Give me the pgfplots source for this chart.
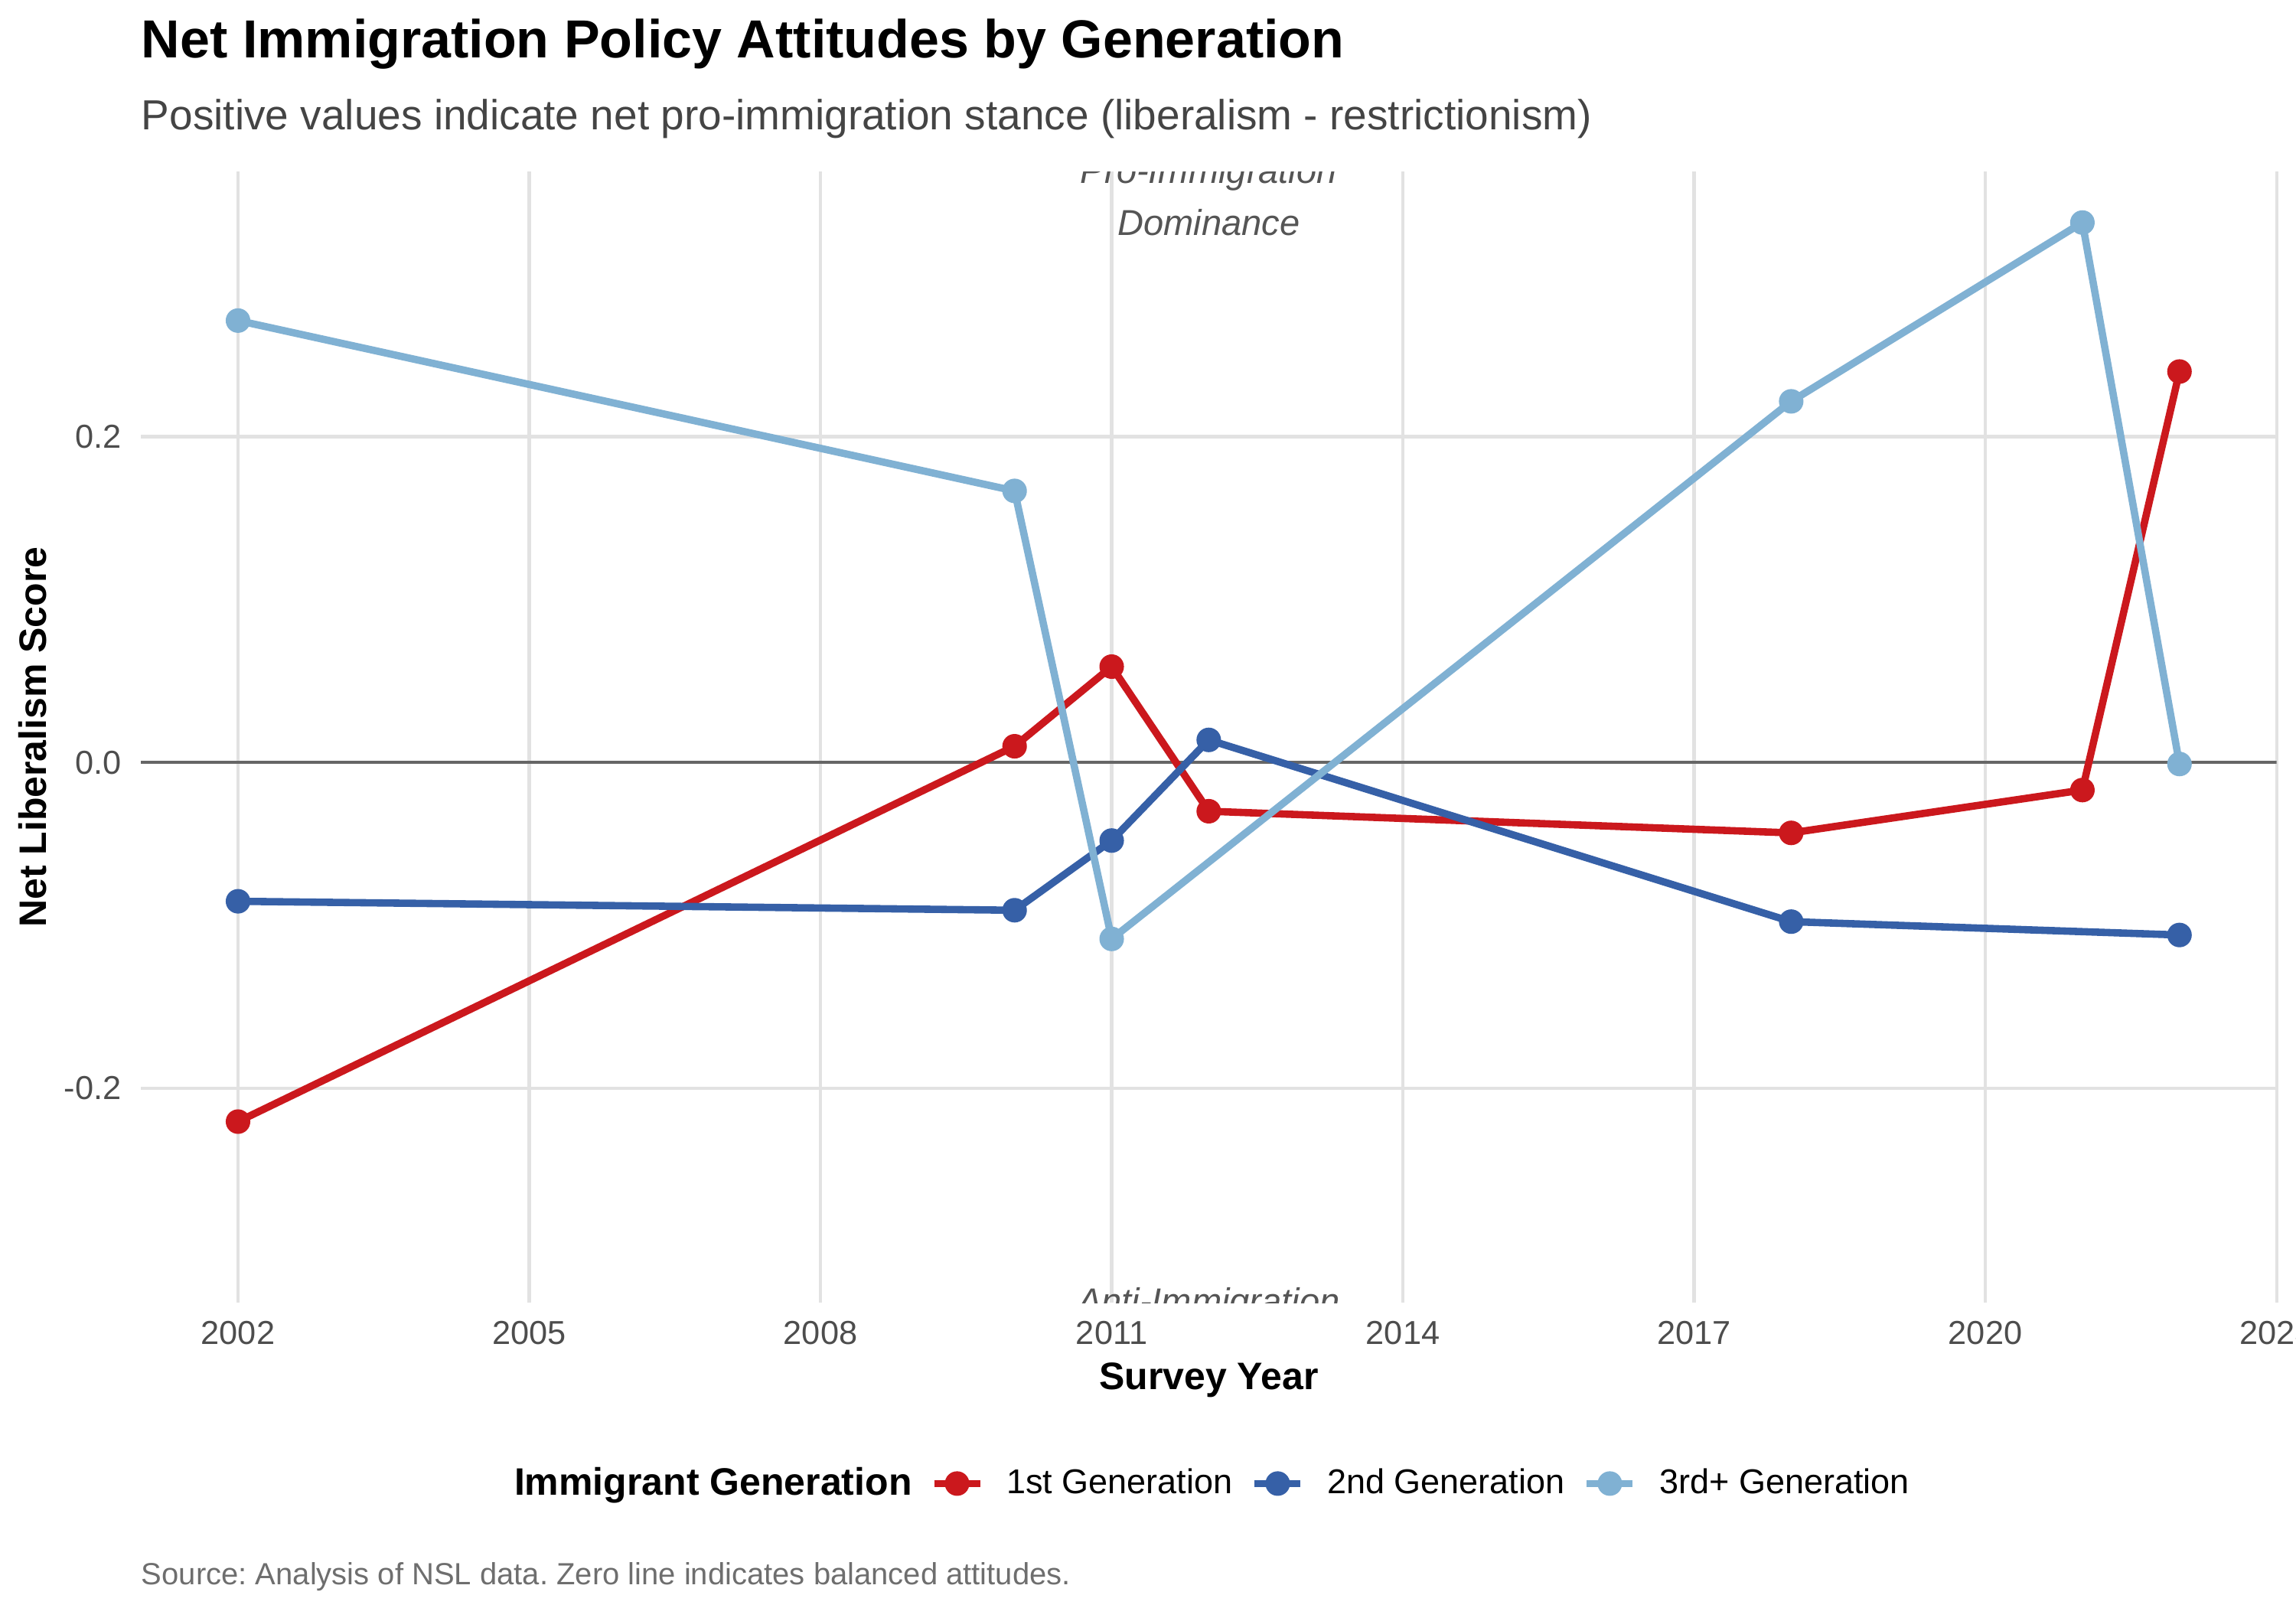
\documentclass[border=0pt]{standalone}
\usepackage{pgfplots}
\pgfplotsset{compat=1.18}
\usepackage{pgfplotstable}
\usepackage{fontspec}
\setmainfont{Liberation Sans}
\frenchspacing
\definecolor{cRed}{RGB}{203,24,29}
\definecolor{cBlue}{RGB}{54,96,167}
\definecolor{cLight}{RGB}{128,177,211}
\definecolor{gridc}{RGB}{226,226,226}
\definecolor{zeroc}{RGB}{102,102,102}
\definecolor{tickc}{RGB}{77,77,77}
\definecolor{subc}{RGB}{68,68,68}
\definecolor{annc}{RGB}{85,85,85}
\definecolor{capc}{RGB}{110,110,110}

\pgfplotstableread{
year val
2002 -0.2206
2010 0.0099
2011 0.0588
2012 -0.0300
2018 -0.0433
2021 -0.0170
2022 0.2400
}\first
\pgfplotstableread{
year val
2002 -0.0853
2010 -0.0908
2011 -0.0480
2012 0.0138
2018 -0.0978
2022 -0.1060
}\second
\pgfplotstableread{
year val
2002 0.2713
2010 0.1667
2011 -0.1084
2018 0.2217
2021 0.3315
2022 -0.0010
}\third

\begin{document}
\begin{tikzpicture}
\begin{axis}[
  name=ax, at={(0,0)}, anchor=south west,
  scale only axis, width=669.7pt, height=354.7pt,
  xmin=2001, xmax=2023, ymin=-0.3318, ymax=0.3628,
  xtick={2002,2005,...,2023}, ytick={-0.2,0,0.2},
  axis line style={draw=none}, major tick length=0pt, minor tick num=0,
  xmajorgrids, ymajorgrids,
  major grid style={draw=gridc, line width=1pt},
  /pgf/number format/assume math mode=true,
  /pgf/number format/1000 sep={},
  xticklabel style={font=\fontsize{10.4}{12}\selectfont, text=tickc, anchor=base, inner sep=0pt, yshift=-13.1pt},
  yticklabel style={/pgf/number format/fixed, /pgf/number format/fixed zerofill, /pgf/number format/precision=1, font=\fontsize{10.4}{12}\selectfont, text=tickc, anchor=east, inner sep=0pt, xshift=-6pt},
  legend columns=-1,
  legend style={at={(0.1641,-0.1599)}, anchor=west, draw=none, fill=none, inner sep=0pt, outer sep=0pt,
    font=\fontsize{10.8}{12}\selectfont, nodes={inner sep=0pt},
    /tikz/every odd column/.append style={column sep=7.2pt},
    /tikz/every even column/.append style={column sep=5.8pt}},
  legend cell align=left,
  legend image code/.code={\draw[mark repeat=2,mark phase=2,#1] plot coordinates {(0pt,0pt) (7.2pt,0pt) (14.4pt,0pt)};},
]
\addlegendimage{empty legend}
\addlegendentry{\fontsize{12}{14}\selectfont\bfseries Immigrant Generation}
\addlegendimage{cRed, line width=2.3pt, mark=*, mark size=3.65pt, mark options={solid, fill=cRed, draw=cRed, line width=0.4pt}}
\addlegendentry{1st Generation}
\addlegendimage{cBlue, line width=2.3pt, mark=*, mark size=3.65pt, mark options={solid, fill=cBlue, draw=cBlue, line width=0.4pt}}
\addlegendentry{2nd Generation}
\addlegendimage{cLight, line width=2.3pt, mark=*, mark size=3.65pt, mark options={solid, fill=cLight, draw=cLight, line width=0.4pt}}
\addlegendentry{3rd+ Generation}

\addplot[zeroc, line width=1pt, forget plot] coordinates {(2001,0) (2023,0)};

\addplot[cRed, line width=2.3pt, line join=round, forget plot] table[x=year,y=val] {\first};
\addplot[cBlue, line width=2.3pt, line join=round, forget plot] table[x=year,y=val] {\second};
\addplot[cLight, line width=2.3pt, line join=round, forget plot] table[x=year,y=val] {\third};

\addplot[cRed, only marks, mark=*, mark size=3.65pt, mark options={fill=cRed, draw=cRed, line width=0.4pt}, forget plot] table[x=year,y=val] {\first};
\addplot[cBlue, only marks, mark=*, mark size=3.65pt, mark options={fill=cBlue, draw=cBlue, line width=0.4pt}, forget plot] table[x=year,y=val] {\second};
\addplot[cLight, only marks, mark=*, mark size=3.65pt, mark options={fill=cLight, draw=cLight, line width=0.4pt}, forget plot] table[x=year,y=val] {\third};

\node[font=\fontsize{11.3}{13}\selectfont\itshape, text=annc, anchor=base, inner sep=0pt] at (axis cs:2012,0.3557) {Pro-Immigration};
\node[font=\fontsize{11.3}{13}\selectfont\itshape, text=annc, anchor=base, inner sep=0pt] at (axis cs:2012,0.3238) {Dominance};
\node[font=\fontsize{11.3}{13}\selectfont\itshape, text=annc, anchor=base, inner sep=0pt] at (axis cs:2012,-0.3386) {Anti-Immigration};
\node[font=\fontsize{11.3}{13}\selectfont\itshape, text=annc, anchor=base, inner sep=0pt] at (axis cs:2012,-0.3705) {Dominance};
\end{axis}
\node[anchor=base west, inner sep=0pt, font=\fontsize{16.8}{20}\selectfont\bfseries] at (0pt,390.3pt) {Net Immigration Policy Attitudes by Generation};
\node[anchor=base west, inner sep=0pt, font=\fontsize{13.2}{16}\selectfont, text=subc] at (0pt,367.7pt) {Positive values indicate net pro-immigration stance (liberalism - restrictionism)};
\node[anchor=base west, inner sep=0pt, font=\fontsize{9.6}{11}\selectfont, text=capc] at (0pt,-88.3pt) {Source: Analysis of NSL data. Zero line indicates balanced attitudes.};
\node[anchor=base, inner sep=0pt, font=\fontsize{12}{14}\selectfont\bfseries] at (334.85pt,-27.1pt) {Survey Year};
\node[anchor=base, rotate=90, inner sep=0pt, font=\fontsize{12}{14}\selectfont\bfseries] at (-29.6pt,177.35pt) {Net Liberalism Score};
\pgfresetboundingbox
\path[use as bounding box] (-44.2pt,-95.5pt) rectangle (675.8pt,408.5pt);
\end{tikzpicture}
\end{document}
